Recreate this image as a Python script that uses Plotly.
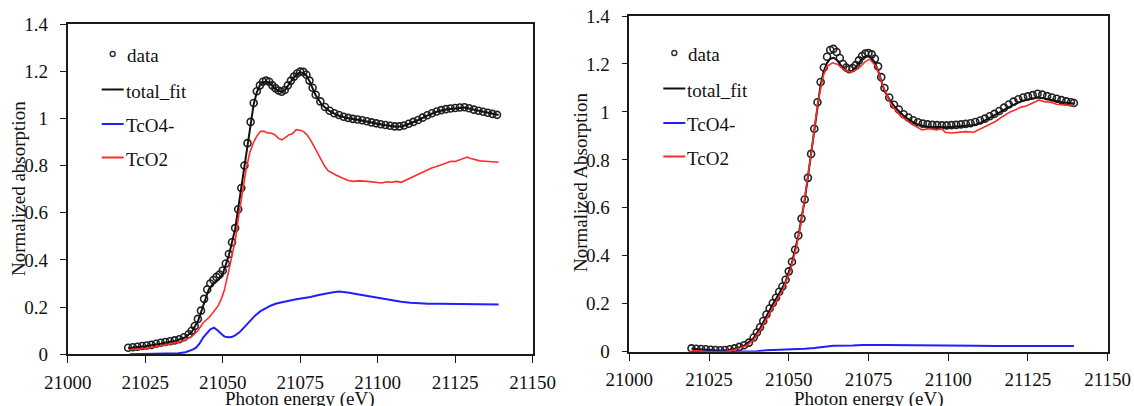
import plotly.graph_objects as go

W, H = 1134, 406

# ---------------- Left panel data ----------------
L_data_x = [21019.5, 21021, 21022.5, 21024, 21025.5, 21027, 21028.5, 21030, 21031.5, 21033, 21034.5, 21036, 21037.5, 21039,
            21040, 21041, 21042, 21043, 21044, 21045, 21046, 21047, 21048, 21049, 21050, 21051, 21052, 21053, 21054, 21055,
            21056, 21057, 21058, 21059, 21060, 21061, 21062, 21063, 21064, 21065, 21066, 21067, 21068, 21069, 21070, 21071,
            21072, 21073, 21074, 21075, 21076, 21077, 21078, 21079, 21080, 21081.5, 21083, 21084.5, 21086, 21087.5, 21089,
            21090.5, 21092, 21093.5, 21095, 21096.5, 21098, 21099.5, 21101, 21102.5, 21104, 21105.5, 21107, 21108.5, 21110,
            21111.5, 21113, 21114.5, 21116, 21117.5, 21119, 21120.5, 21122, 21123.5, 21125, 21126.5, 21128, 21129.5, 21131,
            21132.5, 21134, 21135.5, 21137, 21138.5]
L_data_y = [0.028, 0.030, 0.032, 0.035, 0.037, 0.040, 0.045, 0.049, 0.052, 0.055, 0.059, 0.064, 0.072, 0.085,
            0.100, 0.120, 0.150, 0.185, 0.235, 0.275, 0.300, 0.315, 0.328, 0.338, 0.355, 0.385, 0.425, 0.475, 0.535, 0.615,
            0.705, 0.800, 0.895, 0.985, 1.065, 1.115, 1.140, 1.155, 1.160, 1.155, 1.140, 1.128, 1.118, 1.113, 1.120, 1.140,
            1.160, 1.177, 1.190, 1.198, 1.197, 1.185, 1.160, 1.130, 1.100, 1.072, 1.048, 1.032, 1.022, 1.014, 1.007,
            1.002, 0.998, 0.995, 0.992, 0.988, 0.983, 0.979, 0.975, 0.972, 0.969, 0.966, 0.966, 0.970, 0.977,
            0.985, 0.993, 1.003, 1.013, 1.022, 1.029, 1.035, 1.039, 1.042, 1.044, 1.046, 1.047, 1.043, 1.037,
            1.032, 1.028, 1.024, 1.019, 1.015]

L_fit_x = [21019.5, 21025, 21030, 21035, 21038, 21040, 21042, 21044, 21045.5, 21047, 21048.5, 21050, 21052, 21054, 21056,
           21058, 21060, 21061, 21062, 21063, 21064, 21065, 21066, 21067, 21068, 21069, 21070, 21071, 21072, 21073, 21074,
           21075, 21076, 21077, 21078, 21079, 21080, 21082, 21084, 21087, 21090, 21094, 21098, 21102, 21106, 21108, 21110,
           21113, 21116, 21119, 21122, 21125, 21128, 21131, 21134, 21137, 21139]
L_fit_y = [0.026, 0.034, 0.045, 0.058, 0.072, 0.095, 0.140, 0.215, 0.275, 0.300, 0.315, 0.340, 0.420, 0.530, 0.700,
           0.890, 1.060, 1.110, 1.140, 1.153, 1.157, 1.152, 1.138, 1.126, 1.117, 1.112, 1.118, 1.138, 1.158, 1.175, 1.188,
           1.195, 1.193, 1.182, 1.158, 1.128, 1.098, 1.058, 1.035, 1.013, 1.002, 0.993, 0.982, 0.972, 0.965, 0.967, 0.976,
           0.992, 1.012, 1.028, 1.038, 1.043, 1.046, 1.037, 1.028, 1.019, 1.014]

L_tco4_x = [21020, 21025, 21030, 21035.7, 21038, 21039.1, 21040.3, 21041.4, 21042.5, 21043.7, 21045, 21046, 21047.2, 21048,
            21048.6, 21049.5, 21050.6, 21051.8, 21052.9, 21054, 21055.3, 21057, 21058.7, 21060.5, 21062.2, 21064, 21065.6,
            21067.3, 21069.1, 21071.4, 21073.7, 21076, 21078.3, 21080.6, 21082.9, 21085.2, 21087.5, 21089.2, 21090.9, 21093,
            21095.5, 21097.8, 21100.1, 21102.4, 21104.7, 21107.6, 21110.5, 21113.4, 21116.3, 21120, 21124, 21127.8, 21132,
            21136, 21139]
L_tco4_y = [0.0, 0.001, 0.002, 0.004, 0.009, 0.014, 0.020, 0.028, 0.045, 0.071, 0.092, 0.106, 0.113, 0.107,
            0.099, 0.087, 0.075, 0.072, 0.073, 0.080, 0.092, 0.115, 0.141, 0.165, 0.183, 0.197, 0.207,
            0.215, 0.221, 0.227, 0.233, 0.237, 0.243, 0.250, 0.257, 0.262, 0.266, 0.265, 0.261, 0.256,
            0.250, 0.245, 0.240, 0.234, 0.228, 0.223, 0.219, 0.216, 0.214, 0.214, 0.214, 0.214, 0.213,
            0.212, 0.211]

L_tco2_x = [21020, 21025, 21030, 21034, 21037, 21040, 21042, 21043.7, 21045.5, 21047.2, 21048.5, 21049.5, 21050.5, 21051.8,
            21053, 21054.1, 21055.2, 21056.4, 21057.5, 21058.7, 21060, 21061, 21062.2, 21063.3, 21064.5, 21065.6, 21066.8,
            21068, 21069.1, 21070.2, 21071.4, 21072.5, 21073.7, 21075, 21076, 21077.2, 21078.3, 21079.5, 21080.6, 21081.8,
            21082.9, 21084, 21085.2, 21086.5, 21088.6, 21090.5, 21092.1, 21094, 21096.7, 21098.5, 21100, 21101.3, 21103,
            21104.7, 21106, 21107.6, 21109, 21110.5, 21112, 21113.9, 21115.5, 21117.4, 21119, 21120.8, 21122.3, 21123.7,
            21125, 21126.5, 21128.9, 21130, 21131.2, 21133, 21134.7, 21137, 21139]
L_tco2_y = [0.020, 0.025, 0.035, 0.045, 0.055, 0.075, 0.100, 0.134, 0.155, 0.183, 0.205, 0.233, 0.270, 0.345,
            0.420, 0.486, 0.590, 0.698, 0.780, 0.853, 0.900, 0.925, 0.945, 0.945, 0.938, 0.938, 0.931,
            0.915, 0.909, 0.918, 0.931, 0.935, 0.952, 0.950, 0.945, 0.930, 0.909, 0.880, 0.853, 0.822,
            0.797, 0.778, 0.768, 0.760, 0.747, 0.737, 0.733, 0.735, 0.733, 0.730, 0.726, 0.726, 0.731,
            0.729, 0.733, 0.729, 0.738, 0.747, 0.755, 0.768, 0.778, 0.790, 0.796, 0.804, 0.812, 0.818,
            0.817, 0.825, 0.836, 0.830, 0.825, 0.820, 0.818, 0.816, 0.814]

# ---------------- Right panel data ----------------
R_data_x = [21019.5, 21021, 21022.5, 21024, 21025.5, 21027, 21028.5, 21030, 21031.5, 21033, 21034.5, 21036, 21037.5, 21039,
            21040, 21041, 21042, 21043, 21044, 21045, 21046, 21047, 21048, 21049, 21050, 21051, 21052, 21053, 21054, 21055,
            21056, 21057, 21058, 21059, 21060, 21061, 21062, 21063, 21064, 21065, 21066, 21067, 21068, 21069, 21070, 21071,
            21072, 21073, 21074, 21075, 21076, 21077, 21078, 21079, 21080, 21081.5, 21083, 21084.5, 21086, 21087.5, 21089,
            21090.5, 21092, 21093.5, 21095, 21096.5, 21098, 21099.5, 21101, 21102.5, 21104, 21105.5, 21107, 21108.5, 21110,
            21111.5, 21113, 21114.5, 21116, 21117.5, 21119, 21120.5, 21122, 21123.5, 21125, 21126.5, 21128, 21129.5, 21131,
            21132.5, 21134, 21135.5, 21137, 21138.5, 21139.4]
R_data_y = [0.014, 0.012, 0.011, 0.010, 0.008, 0.007, 0.006, 0.007, 0.010, 0.014, 0.020, 0.027, 0.038, 0.059,
            0.080, 0.102, 0.128, 0.155, 0.180, 0.203, 0.225, 0.250, 0.272, 0.300, 0.335, 0.375, 0.425, 0.485, 0.555, 0.635,
            0.725, 0.825, 0.930, 1.040, 1.125, 1.185, 1.230, 1.258, 1.263, 1.250, 1.225, 1.200, 1.185, 1.178, 1.183, 1.195,
            1.215, 1.233, 1.243, 1.246, 1.240, 1.222, 1.190, 1.145, 1.100, 1.060, 1.030, 1.010, 0.990, 0.977, 0.965,
            0.957, 0.951, 0.948, 0.946, 0.945, 0.944, 0.944, 0.945, 0.946, 0.948, 0.950, 0.953, 0.958, 0.964,
            0.972, 0.982, 0.992, 1.004, 1.018, 1.031, 1.043, 1.053, 1.060, 1.065, 1.070, 1.076, 1.072, 1.066,
            1.060, 1.055, 1.049, 1.044, 1.040, 1.037]

R_fit_x = [21019.5, 21022, 21025, 21028, 21031, 21033.3, 21036, 21039, 21041, 21043, 21045, 21047, 21049, 21051, 21053,
           21055, 21057, 21059, 21060, 21061, 21062, 21063, 21064, 21065, 21066, 21067, 21068, 21069, 21070, 21071, 21072,
           21073, 21074, 21075, 21076, 21077, 21078, 21079, 21080, 21082, 21084, 21086, 21088, 21090, 21092, 21094, 21096,
           21098, 21100, 21102, 21104, 21106, 21108, 21110, 21112, 21114, 21116, 21118, 21120, 21122, 21124, 21126, 21128,
           21130, 21132, 21134, 21136, 21139.4]
R_fit_y = [0.012, 0.010, 0.006, 0.004, 0.006, 0.012, 0.025, 0.057, 0.098, 0.150, 0.198, 0.243, 0.292, 0.372, 0.482,
           0.632, 0.822, 1.030, 1.115, 1.170, 1.205, 1.222, 1.226, 1.218, 1.200, 1.183, 1.172, 1.167, 1.172, 1.185, 1.205,
           1.222, 1.231, 1.233, 1.225, 1.205, 1.172, 1.128, 1.088, 1.042, 1.010, 0.984, 0.965, 0.950, 0.942, 0.938, 0.937,
           0.937, 0.936, 0.938, 0.940, 0.942, 0.945, 0.953, 0.967, 0.981, 0.997, 1.013, 1.028, 1.040, 1.049, 1.053, 1.060,
           1.057, 1.050, 1.044, 1.039, 1.035]

R_tco4_x = [21020, 21030, 21040, 21043, 21047, 21052, 21055, 21058, 21062, 21064, 21070, 21073, 21080, 21090, 21100, 21107,
            21108.5, 21115, 21125, 21135, 21139.4]
R_tco4_y = [0.0, 0.0, 0.002, 0.006, 0.008, 0.008, 0.012, 0.015, 0.020, 0.025, 0.026, 0.028, 0.028, 0.028, 0.028, 0.028,
            0.025, 0.024, 0.024, 0.024, 0.024]

R_tco2_x = [21019.5, 21022, 21025, 21030, 21033, 21036.7, 21039, 21041.3, 21043.6, 21045.9, 21048.2, 21050.5, 21052.2,
            21053.9, 21055.7, 21057.4, 21059.1, 21060.8, 21062, 21063.7, 21065.4, 21067.1, 21069.4, 21071.7, 21074.0,
            21075.4, 21077.5, 21079.8, 21082.1, 21084.9, 21088.4, 21090.5, 21091.8, 21094, 21096.4, 21098, 21099, 21101,
            21103, 21105.6, 21108, 21110.2, 21112.5, 21114.8, 21117, 21119.4, 21121, 21122.8, 21124.5, 21126.2, 21128.5,
            21130, 21132, 21134, 21135.4, 21137, 21139.4]
R_tco2_y = [0.005, 0.003, 0.0, 0.0, 0.008, 0.025, 0.050, 0.095, 0.150, 0.205, 0.260, 0.340, 0.425,
            0.540, 0.695, 0.860, 1.040, 1.150, 1.190, 1.205, 1.198, 1.178, 1.165, 1.180, 1.210,
            1.220, 1.188, 1.100, 1.030, 0.985, 0.950, 0.935, 0.925, 0.930, 0.925, 0.930, 0.915, 0.912,
            0.915, 0.918, 0.915, 0.930, 0.945, 0.960, 0.980, 1.000, 1.008, 1.020, 1.025, 1.035, 1.050,
            1.043, 1.040, 1.032, 1.030, 1.028, 1.025]

X_TICKS = [21000, 21025, 21050, 21075, 21100, 21125, 21150]
Y_TICKS = [0, 0.2, 0.4, 0.6, 0.8, 1, 1.2, 1.4]
Y_TICK_TEXT = ["0", "0.2", "0.4", "0.6", "0.8", "1", "1.2", "1.4"]
LEGEND_NAMES = ["data", "total_fit", "TcO4-", "TcO2"]
X_TITLE = "Photon energy (eV)"
Y_TITLES = ["Normalized absorption", "Normalized Absorption"]

BLACK = "#111111"
BLUE = "#1f1fff"
RED = "#ff2a2a"
FONT = "Liberation Serif"

fig = go.Figure()

panels = [
    ("x", "y", L_data_x, L_data_y, L_fit_x, L_fit_y, L_tco4_x, L_tco4_y, L_tco2_x, L_tco2_y),
    ("x2", "y2", R_data_x, R_data_y, R_fit_x, R_fit_y, R_tco4_x, R_tco4_y, R_tco2_x, R_tco2_y),
]
for xa, ya, dx, dy, fx_, fy_, bx, by, rx, ry in panels:
    fig.add_trace(go.Scatter(x=dx, y=dy, mode="markers", xaxis=xa, yaxis=ya, name="data",
                             marker=dict(symbol="circle-open", size=7, color="#222222", line=dict(width=1.6)),
                             showlegend=False))
    fig.add_trace(go.Scatter(x=fx_, y=fy_, mode="lines", xaxis=xa, yaxis=ya, name="total_fit",
                             line=dict(color=BLACK, width=2), showlegend=False))
    fig.add_trace(go.Scatter(x=bx, y=by, mode="lines", xaxis=xa, yaxis=ya, name="TcO4-",
                             line=dict(color=BLUE, width=2), showlegend=False))
    fig.add_trace(go.Scatter(x=rx, y=ry, mode="lines", xaxis=xa, yaxis=ya, name="TcO2",
                             line=dict(color=RED, width=1.6), showlegend=False))

# Panel geometry in pixels
L_box = dict(x0=67.7, x1=532.7, y0=24.0, y1=354.3)
R_box = dict(x0=629.3, x1=1107.7, y0=16.0, y1=351.7)

def px(x):
    return x / W

def py(y):
    return 1 - y / H

def axis_common(box, horizontal):
    d = dict(showline=True, linecolor="#1a1a1a", linewidth=1.6, mirror=True, showgrid=False, zeroline=False,
             automargin=False, ticks="outside", tickcolor="#1a1a1a", tickwidth=1.4,
             tickfont=dict(family=FONT, size=19, color="#111111"))
    if horizontal:
        d.update(domain=[px(box["x0"]), px(box["x1"])], range=[21000, 21150], tickvals=X_TICKS,
                 ticktext=[str(v) for v in X_TICKS], ticklen=7, ticklabelstandoff=3)
    else:
        d.update(domain=[py(box["y1"]), py(box["y0"])], range=[0, 1.4], tickvals=Y_TICKS,
                 ticktext=Y_TICK_TEXT, ticklen=6, ticklabelstandoff=8)
    return d

fig.update_layout(
    width=W, height=H, autosize=False, margin=dict(l=0, r=0, t=0, b=0, pad=0, autoexpand=False),
    paper_bgcolor="white", plot_bgcolor="white",
    xaxis=dict(axis_common(L_box, True), anchor="y"),
    yaxis=dict(axis_common(L_box, False), anchor="x"),
    xaxis2=dict(axis_common(R_box, True), anchor="y2"),
    yaxis2=dict(axis_common(R_box, False), anchor="x2"),
    font=dict(family=FONT, color="#111111", size=19),
)

annotations = []
shapes = []
for box, ytitle, ytx, yty in [(L_box, Y_TITLES[0], 19, 189), (R_box, Y_TITLES[1], 580, 183)]:
    xc = (box["x0"] + box["x1"]) / 2
    annotations.append(dict(text=X_TITLE, x=px(xc), y=py(399), xref="paper", yref="paper",
                            xanchor="center", yanchor="middle", showarrow=False,
                            font=dict(family=FONT, size=19, color="#111111")))
    annotations.append(dict(text=ytitle, x=px(ytx), y=py(yty), xref="paper", yref="paper", textangle=-90,
                            xanchor="center", yanchor="middle", showarrow=False,
                            font=dict(family=FONT, size=19, color="#111111")))

# Manual legends (positions in pixels relative to each panel's left axis)
legend_rows = [54, 89.5, 124, 157.5]
for box, dy_off in [(L_box, 0), (R_box, -1)]:
    ax = box["x0"]
    colors = [None, BLACK, BLUE, RED]
    for i, name in enumerate(LEGEND_NAMES):
        yy = legend_rows[i] + dy_off
        if i == 0:
            cx = ax + 45
            shapes.append(dict(type="circle", xref="paper", yref="paper", xsizemode="pixel", ysizemode="pixel",
                               xanchor=px(cx), yanchor=py(yy), x0=-2.5, x1=2.5, y0=-2.5, y1=2.5,
                               line=dict(color="#333333", width=1.4)))
            tx = ax + 57
        else:
            shapes.append(dict(type="line", xref="paper", yref="paper", x0=px(ax + 34), x1=px(ax + 56),
                               y0=py(yy), y1=py(yy), line=dict(color=colors[i], width=2)))
            tx = ax + 56
        annotations.append(dict(text=name, x=px(tx), y=py(yy + 1.5), xref="paper", yref="paper",
                                xanchor="left", yanchor="middle", showarrow=False,
                                font=dict(family=FONT, size=19, color="#111111")))

fig.update_layout(annotations=annotations, shapes=shapes)
fig.write_html("out.html",
               config={"displayModeBar": False},
               post_script="document.body.style.margin='0';document.body.style.padding='0';"
                           "document.body.style.overflow='hidden';")
